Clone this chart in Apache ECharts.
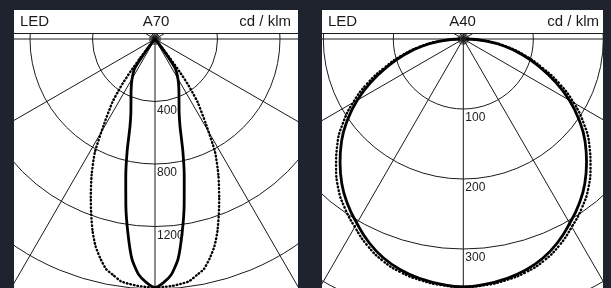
<!DOCTYPE html>
<html>
<head>
<meta charset="utf-8">
<script src="https://cdn.jsdelivr.net/npm/echarts@6/dist/echarts.min.js"></script>
<style>
    html, body { margin: 0; padding: 0; width: 611px; height: 288px; overflow: hidden; background: #1f232d; }
    .panel { position: absolute; top: 10px; height: 278px; background: #fff; }
    #a70_chart { left: 14px; width: 284px; }
    #a40_chart { left: 322px; width: 281px; }
</style>
</head>
<body>
<div id="a70_chart" class="panel"></div>
<div id="a40_chart" class="panel"></div>
<script>
// angles in degrees away from the downward axis, intensities in cd/klm
var a70Angles = [0, 2, 4, 6, 8, 10, 12, 14, 16, 18, 20, 22, 25, 28, 31, 34, 35, 36, 37, 38, 39, 40, 45, 60, 90];
var a70Solid  = [1590, 1560, 1510, 1415, 1250, 1075, 900, 735, 580, 500, 450, 410, 362, 320, 280, 240, 215, 150, 90, 45, 30, 20, 8, 4, 0];
var a70Dotted = [1590, 1588, 1584, 1576, 1566, 1535, 1505, 1447, 1380, 1293, 1194, 1097, 960, 818, 630, 487, 420, 352, 260, 160, 90, 45, 12, 4, 0];
var a70Rings  = [400, 800, 1200, 1600, 2000];

var a40Angles = [0, 5, 10, 15, 20, 25, 30, 35, 40, 45, 50, 55, 60, 65, 70, 75, 80, 85, 90];
var a40Solid  = [354, 352, 348, 342, 333, 320, 304, 288, 270, 249, 227, 202, 175, 145, 115, 88, 60, 31, 5];
var a40Dotted = [354, 353, 350, 345, 337, 325, 310, 295, 278, 257, 235, 210, 182, 152, 120, 91, 63, 33, 5];
var a40Rings  = [100, 200, 300, 400, 500];

var spokeStep = 30;
var starStep = 15;

var inkColor = '#1a1a1a';
var fontName = "'Liberation Sans', Arial, sans-serif";

// left half uses the angle as is, right half 360 - angle
function mirror(angles, values) {
    var pts = [];
    for (var i = angles.length - 1; i > 0; i--) {
        pts.push([values[i], 360 - angles[i]]);
    }
    for (var j = 0; j < angles.length; j++) {
        pts.push([values[j], angles[j]]);
    }
    return pts;
}

function headText(text, pos) {
    var t = {
        text: text,
        top: 4,
        padding: 0,
        z: 200,
        textStyle: { color: inkColor, fontSize: 15, fontWeight: 'normal', fontFamily: fontName }
    };
    for (var k in pos) t[k] = pos[k];
    return t;
}

function buildOption(name, rings, radiusPx, cx, width, rightPad, solid, dotted, smooth) {
    var maxR = rings[rings.length - 1];
    return {
        animation: false,
        title: [
            headText('LED', { left: 6 }),
            headText(name, { left: 'center' }),
            headText('cd / klm', { right: rightPad })
        ],
        polar: [
            { center: [cx, 29], radius: radiusPx },
            { center: [cx, 29], radius: 6 }
        ],
        angleAxis: [
            {
                polarIndex: 0, type: 'value', min: 0, max: 360, interval: spokeStep,
                startAngle: 270, clockwise: true,
                axisLine: { show: false }, axisTick: { show: false }, axisLabel: { show: false },
                splitLine: { show: true, lineStyle: { color: inkColor, width: 1 } }
            },
            {
                polarIndex: 1, type: 'value', min: 0, max: 360, interval: starStep,
                startAngle: 270, clockwise: true,
                axisLine: { show: false }, axisTick: { show: false }, axisLabel: { show: false },
                splitLine: { show: true, lineStyle: { color: inkColor, width: 0.8 } }
            }
        ],
        radiusAxis: [
            {
                polarIndex: 0, type: 'value', min: 0, max: maxR, interval: rings[0],
                axisLine: { show: false }, axisTick: { show: false },
                splitLine: { show: true, lineStyle: { color: inkColor, width: 1 } },
                axisLabel: {
                    margin: 2, align: 'left', verticalAlign: 'top', padding: [3, 0, 0, 0],
                    fontSize: 12, color: '#222', fontFamily: fontName,
                    formatter: function (v) { return v > 0 ? String(v) : ''; }
                }
            },
            {
                polarIndex: 1, type: 'value', min: 0, max: 1,
                axisLine: { show: false }, axisTick: { show: false },
                axisLabel: { show: false }, splitLine: { show: false }
            }
        ],
        graphic: [
            { type: 'rect', shape: { x: 0, y: 0, width: width, height: 23 }, style: { fill: '#fff' }, z: 100 },
            { type: 'line', shape: { x1: 0, y1: 23.5, x2: width, y2: 23.5 }, style: { stroke: inkColor, lineWidth: 1 }, z: 101 }
        ],
        series: [
            {
                type: 'line', coordinateSystem: 'polar', polarIndex: 0,
                data: dotted, showSymbol: false, smooth: smooth, silent: true,
                lineStyle: { color: '#000', width: 2.4, type: [0.6, 3], cap: 'round' }
            },
            {
                type: 'line', coordinateSystem: 'polar', polarIndex: 0,
                data: solid, showSymbol: false, smooth: smooth, silent: true,
                lineStyle: { color: '#000', width: 2.8 }
            }
        ]
    };
}

var a70_chart = echarts.init(document.getElementById('a70_chart'));
a70_chart.setOption(buildOption('A70', a70Rings, 312.5, 141, 284, 7,
    mirror(a70Angles, a70Solid), mirror(a70Angles, a70Dotted), 0.2));

var a40_chart = echarts.init(document.getElementById('a40_chart'));
a40_chart.setOption(buildOption('A40', a40Rings, 350, 141.3, 281, 4,
    mirror(a40Angles, a40Solid), mirror(a40Angles, a40Dotted), 0.5));
</script>
</body>
</html>
